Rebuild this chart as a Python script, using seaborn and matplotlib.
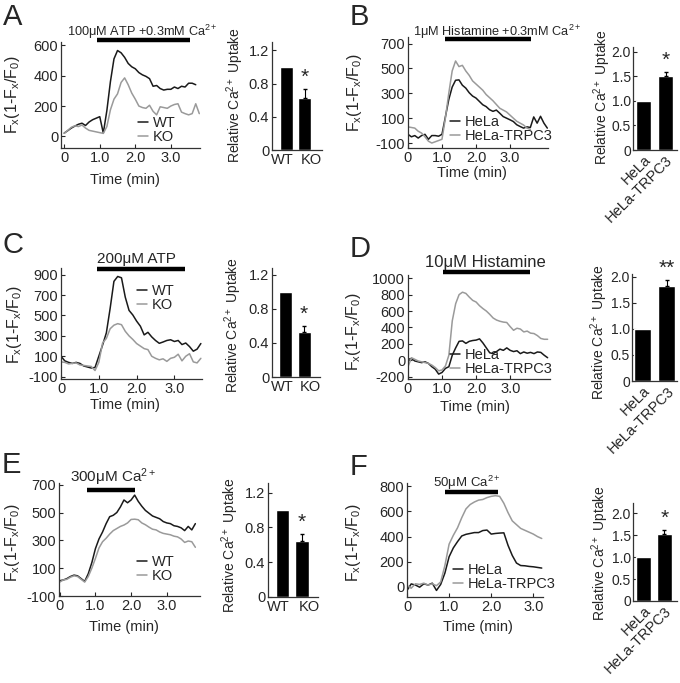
import numpy as np
import pandas as pd
import matplotlib
matplotlib.use("Agg")
import matplotlib.pyplot as plt
import seaborn as sns

# traces, one sample every 0.1 min
wt_a = [22, 38, 55, 68, 80, 87, 72, 95, 110, 120, 130, 22, 170, 360, 510, 565, 550, 520, 480, 458,
        445, 420, 405, 395, 380, 330, 335, 315, 305, 310, 310, 325, 315, 330, 325, 350, 350, 340]
ko_a = [20, 40, 60, 70, 65, 75, 55, 40, 35, 30, 25, 20, 65, 175, 245, 280, 355, 385, 340, 285,
        245, 200, 190, 185, 205, 165, 142, 195, 190, 185, 200, 210, 215, 160, 150, 142, 150, 215, 150]

hela_b = [-30, -50, -40, -60, -40, -30, -70, -40, -40, -45, -30, 110, 250, 350, 405, 408, 365, 342, 305, 278,
          262, 235, 208, 193, 168, 155, 165, 140, 113, 100, 87, 73, 47, 33, 20, 30, 25, 110, 60, 115, 60, 20]
trpc3_b = [30, 25, 20, -5, -20, -50, -85, -100, -90, -80, -70, 100, 300, 480, 560, 515, 525, 480, 445, 400,
           375, 350, 325, 290, 265, 240, 210, 180, 165, 150, 125, 100, 75, 60, 45, 20, 10]

wt_c = [100, 55, 40, 30, 40, 30, 5, -5, -15, -10, 100, 210, 330, 570, 835, 883, 870, 680, 550, 505,
        445, 395, 310, 335, 290, 255, 227, 240, 255, 262, 245, 255, 215, 230, 195, 150, 170, 225]
ko_c = [45, 40, 25, 30, 35, 15, 10, 5, 0, -40, 40, 230, 275, 370, 405, 420, 410, 345, 300, 265,
        225, 200, 175, 165, 100, 80, 65, 75, 50, 80, 90, 120, 55, 100, 125, 45, 35, 80]

hela_d = [10, 20, -10, -20, -30, -20, -40, -80, -110, -170, -150, -100, -80, 60, 150, 230, 235, 205, 230, 240,
          245, 260, 210, 150, 90, 80, 105, 135, 120, 150, 120, 105, 115, 80, 100, 85, 95, 80, 100, 95, 60, 30]
trpc3_d = [-80, 30, 10, -10, -20, -30, -40, -60, -90, -130, -120, -70, 60, 480, 690, 800, 830, 815, 770, 730,
           710, 665, 630, 600, 560, 515, 490, 475, 465, 460, 410, 365, 390, 380, 345, 355, 330, 325, 300, 265, 255, 255]

wt_e = [10, 15, 25, 40, 50, 45, 25, 5, 60, 140, 240, 310, 360, 420, 470, 480, 500, 540, 590, 570,
        590, 625, 580, 545, 515, 495, 475, 465, 455, 435, 425, 420, 405, 400, 390, 370, 400, 375, 420]
ko_e = [0, 15, 20, 35, 45, 40, 20, 0, 40, 100, 170, 245, 290, 315, 345, 370, 385, 400, 410, 425,
        450, 452, 448, 425, 412, 395, 380, 375, 360, 350, 345, 340, 330, 325, 310, 285, 295, 290, 250]

hela_f = [-28, 24, 15, -2, 25, 15, 30, -28, 20, 110, 240, 310, 360, 405, 418, 425, 432, 432, 448, 452,
          420, 425, 428, 430, 330, 250, 190, 170, 168, 163, 160, 155, 150]
trpc3_f = [11, -10, 25, 20, 30, 15, 25, 10, 40, 170, 340, 410, 470, 550, 620, 655, 675, 690, 695, 710,
           720, 725, 720, 665, 590, 525, 495, 465, 450, 435, 420, 400, 385]

# relative uptake bars: control, test, error on test
cats_ko = ["WT", "KO"]
cats_trpc = ["HeLa", "HeLa-TRPC3"]
uptake_a = [1.0, 0.62]; err_a = 0.12
uptake_b = [1.0, 1.50]; err_b = 0.10
uptake_c = [1.0, 0.53]; err_c = 0.07
uptake_d = [1.0, 1.82]; err_d = 0.12
uptake_e = [1.0, 0.64]; err_e = 0.08
uptake_f = [1.0, 1.53]; err_f = 0.09

sns.set_style("ticks")
plt.rcParams["font.family"] = ["Liberation Sans", "DejaVu Sans"]
plt.rcParams["mathtext.fontset"] = "custom"
plt.rcParams["mathtext.rm"] = "Liberation Sans"
plt.rcParams["mathtext.it"] = "Liberation Sans:italic"
plt.rcParams["mathtext.bf"] = "Liberation Sans:bold"
plt.rcParams["axes.linewidth"] = 0.9
plt.rcParams["axes.edgecolor"] = "#333333"

DARK = "#1a1a1a"
GRAY = "#9a9a9a"
W, H = 680, 683
FX = r"F$_\mathregular{x}$(1-F$_\mathregular{x}$/F$_\mathregular{0}$)"
UPTAKE = r"Relative Ca$^{2+}$ Uptake"

fig = plt.figure(figsize=(6.8, 6.83), dpi=100)


def add_ax(l, t, r, b):
    return fig.add_axes([l / W, 1 - b / H, (r - l) / W, (b - t) / H])


def ptext(x, y, s, **kw):
    fig.text(x / W, 1 - y / H, s, **kw)


def line_panel(box, series, xlim, ylim, yticks, leg, stim, stim_y, title, title_xy, title_size,
               ylab_xy, xlab_xy, letter, letter_xy):
    ax = add_ax(*box)
    frames = []
    for name, vals in series.items():
        frames.append(pd.DataFrame({"t": np.arange(len(vals)) * 0.1, "v": vals, "g": name}))
    df = pd.concat(frames, ignore_index=True)
    names = list(series.keys())
    sns.lineplot(data=df, x="t", y="v", hue="g", palette={names[0]: DARK, names[1]: GRAY},
                 estimator=None, linewidth=1.1, ax=ax)
    ax.set_xlim(*xlim)
    ax.set_ylim(*ylim)
    ax.set_xticks([0, 1, 2, 3], ["0", "1.0", "2.0", "3.0"])
    ax.set_yticks(yticks, [str(v) for v in yticks])
    ax.set_xlabel("")
    ax.set_ylabel("")
    ax.tick_params(direction="in", length=3, width=0.8, pad=2, labelsize=10.5)
    sns.despine(ax=ax)
    l, t, r, b = box
    sns.move_legend(ax, "upper left", bbox_to_anchor=((leg[0] - l) / (r - l), (b - leg[1]) / (b - t)),
                    frameon=False, title=None, fontsize=10.5, handlelength=0.7, handletextpad=0.3,
                    labelspacing=0.0, borderpad=0, borderaxespad=0)
    ax.plot(stim, [stim_y, stim_y], color="black", lw=3.2, solid_capstyle="butt",
            transform=ax.get_xaxis_transform(), clip_on=False)
    ptext(title_xy[0], title_xy[1], title, fontsize=title_size, ha="left", va="baseline")
    ptext(ylab_xy[0], ylab_xy[1], FX, fontsize=11.5, rotation=90, ha="center", va="center")
    ptext(xlab_xy[0], xlab_xy[1], "Time (min)", fontsize=10.5, ha="center", va="center")
    ptext(letter_xy[0], letter_xy[1], letter, fontsize=21, ha="left", va="baseline")
    return ax


def bar_panel(box, cats, vals, err, star, ylim, yticks, xlim, rotate, ylab_xy):
    ax = add_ax(*box)
    sns.barplot(x=cats, y=vals, color="black", saturation=1, width=0.7, ax=ax)
    ax.errorbar([1], [vals[1]], yerr=[[0], [err]], fmt="none", ecolor="black", elinewidth=0.8, capsize=1.5)
    ax.text(1, vals[1] + err + 0.02 * ylim[1], star, ha="center", va="bottom", fontsize=15)
    ax.set_ylim(*ylim)
    ax.set_xlim(*xlim)
    ax.set_yticks(yticks, [("0" if v == 0 else f"{v:.1f}") for v in yticks])
    ax.tick_params(axis="x", length=0, pad=2)
    if rotate:
        ax.set_xticks([0, 1], cats, rotation=45, ha="right", rotation_mode="anchor", fontsize=10.5)
        ax.tick_params(axis="y", direction="in", length=3, width=0.8, pad=1.5, labelsize=10)
    else:
        # the labels sit a little wider apart than the bars in the original
        ax.set_xticks([-0.2, 1.35], cats, fontsize=10.5)
        ax.tick_params(axis="y", direction="in", length=3, width=0.8, pad=2, labelsize=10.5)
    sns.despine(ax=ax)
    ptext(ylab_xy[0], ylab_xy[1], UPTAKE, fontsize=10, rotation=90, ha="center", va="center")
    return ax


ca = r"Ca$^{2+}$"

# row 1
line_panel((61, 42, 200, 148), {"WT": wt_a, "KO": ko_a}, (-0.09, 3.82), (-76, 621), [0, 200, 400, 600],
           (138, 116), (0.92, 3.55), 1.02, "100\u03bcM ATP +0.3mM " + ca, (67, 36), 9.2,
           (13, 95), (125, 180), "A", (3, 25))
bar_panel((272, 42, 322, 150), cats_ko, uptake_a, err_a, "*", (0, 1.3), [0, 0.4, 0.8, 1.2],
          (-0.78, 1.92), False, (235, 95))

line_panel((408, 37, 548, 148), {"HeLa": hela_b, "HeLa-TRPC3": trpc3_b}, (0, 4.12), (-140, 753),
           [-100, 100, 300, 500, 700], (450, 115), (1.08, 3.63), 0.98,
           "1\u03bcM Histamine +0.3mM " + ca, (413, 36), 9.2, (355, 93), (472, 173), "B", (350, 25))
bar_panel((633, 47, 677, 150), cats_trpc, uptake_b, err_b, "*", (0, 2.1), [0, 0.5, 1.0, 1.5, 2.0],
          (-0.48, 1.52), True, (602, 97))

# row 2
line_panel((61, 268, 202, 379), {"WT": wt_c, "KO": ko_c}, (0, 3.73), (-123, 966),
           [-100, 100, 300, 500, 700, 900], (137, 284), (0.95, 3.29), 0.99,
           "200\u03bcM ATP", (97, 263), 11, (15, 325), (125, 405), "C", (3, 253))
bar_panel((272, 268, 320, 377), cats_ko, uptake_c, err_c, "*", (0, 1.28), [0, 0.4, 0.8, 1.2],
          (-0.73, 1.86), False, (233, 325))

line_panel((408, 275, 550, 379), {"HeLa": hela_d, "HeLa-TRPC3": trpc3_d}, (0, 4.17), (-230, 1040),
           [-200, 0, 200, 400, 600, 800, 1000], (450, 348), (1.03, 3.58), 1.03,
           "10\u03bcM Histamine", (425, 267), 12, (353, 332), (475, 407), "D", (350, 257))
bar_panel((632, 274, 677, 381), cats_trpc, uptake_d, err_d, "**", (0, 2.05), [0, 0.5, 1.0, 1.5, 2.0],
          (-0.45, 1.42), True, (599, 332))

# row 3
line_panel((59, 483, 200, 596), {"WT": wt_e, "KO": ko_e}, (-0.02, 3.93), (-90, 712),
           [-100, 100, 300, 500, 700], (137, 555), (0.77, 2.1), 0.94,
           "300\u03bcM " + ca, (70, 482), 11, (13, 543), (124, 627), "E", (2, 473))
bar_panel((268, 483, 318, 597), cats_ko, uptake_e, err_e, "*", (0, 1.31), [0, 0.4, 0.8, 1.2],
          (-0.74, 1.82), False, (230, 545))

line_panel((407, 483, 543, 597), {"HeLa": hela_f, "HeLa-TRPC3": trpc3_f}, (0, 3.23), (-80, 826),
           [0, 200, 400, 600, 800], (453, 563), (0.9, 2.17), 0.92,
           "50\u03bcM " + ca, (433, 487), 9.5, (353, 543), (478, 627), "F", (350, 475))
bar_panel((633, 503, 677, 601), cats_trpc, uptake_f, err_f, "*", (0, 2.23), [0, 0.5, 1.0, 1.5, 2.0],
          (-0.5, 1.6), True, (600, 553))

fig.savefig("out.png", dpi=100)
